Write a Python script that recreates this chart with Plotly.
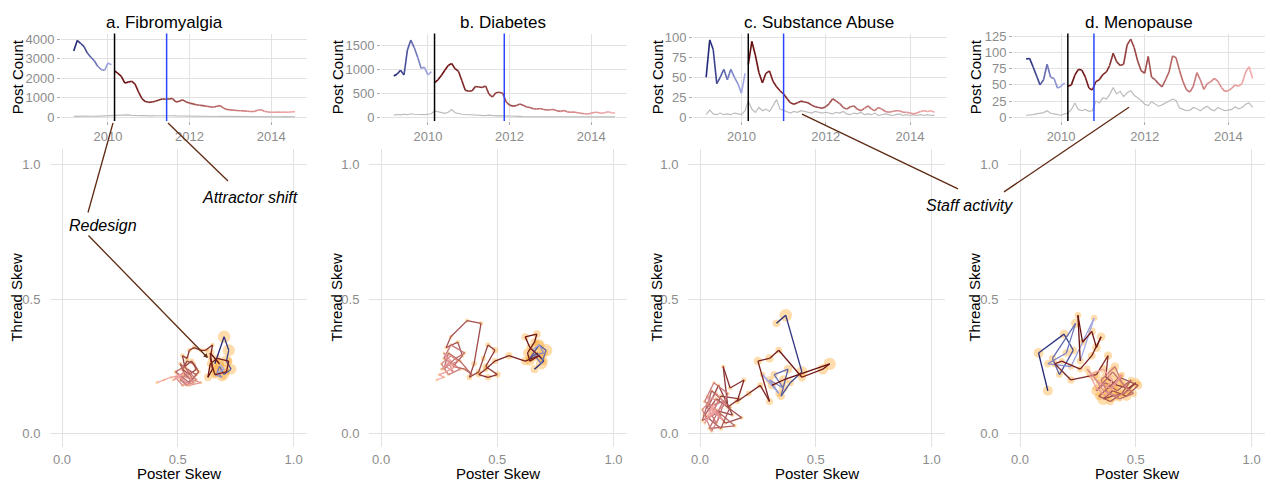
import plotly.graph_objects as go
import pandas as pd

# ---------------- data ----------------
months = pd.date_range("2009-03-01", "2014-08-01", freq="MS")   # 66 monthly samples
redesign_date = "2010-03-01"
shift_dates = ["2011-06-10", "2011-11-15", "2011-01-01", "2010-10-15"]
titles = ["a. Fibromyalgia", "b. Diabetes", "c. Substance Abuse", "d. Menopause"]
year_ticks = ["2010-01-01", "2012-01-01", "2014-01-01"]
year_labels = ["2010", "2012", "2014"]
skew_ticks = [0, 0.5, 1.0]
skew_labels = ["0.0", "0.5", "1.0"]
count_ticks = [[0, 1000, 2000, 3000, 4000], [0, 500, 1000, 1500],
               [0, 25, 50, 75, 100], [0, 25, 50, 75, 100, 125]]

fibro_posts = [3400, 3950, 3800, 3630, 3300, 3080, 2900, 2620, 2450, 2400, 2780, 2700,
               2380, 2250, 2100, 1750, 1800, 1850, 1700, 1300, 950, 800, 760, 780,
               820, 880, 930, 920, 930, 960, 780, 820, 890, 780, 720, 680,
               640, 610, 590, 560, 530, 510, 560, 590, 460, 390, 370, 350,
               340, 330, 320, 300, 290, 285, 350, 380, 300, 260, 250, 250,
               255, 250, 255, 250, 270, 280]
fibro_staff = [40, 50, 45, 55, 50, 45, 60, 50, 55, 60, 70, 65,
               90, 110, 100, 130, 110, 90, 80, 70, 75, 80, 70, 65,
               70, 75, 80, 90, 85, 70, 60, 55, 50, 55, 50, 45,
               40, 45, 40, 35, 40, 35, 30, 35, 30, 30, 25, 30,
               25, 25, 30, 25, 20, 25, 20, 20, 25, 20, 20, 20,
               20, 15, 20, 15, 20, 15]
fibro_poster = [0.66, 0.70, 0.72, 0.71, 0.73, 0.70, 0.68, 0.67, 0.69, 0.66, 0.70, 0.68,
                0.64, 0.65, 0.63, 0.64, 0.67, 0.72, 0.71, 0.66, 0.64, 0.65, 0.62, 0.60,
                0.57, 0.55, 0.54, 0.52, 0.53, 0.56, 0.58, 0.55, 0.52, 0.54, 0.57, 0.59,
                0.56, 0.53, 0.51, 0.54, 0.58, 0.55, 0.52, 0.49, 0.53, 0.56, 0.54, 0.51,
                0.55, 0.58, 0.53, 0.50, 0.54, 0.57, 0.52, 0.49, 0.53, 0.56, 0.60, 0.55,
                0.51, 0.48, 0.52, 0.47, 0.44, 0.41]
fibro_thread = [0.26, 0.36, 0.31, 0.27, 0.24, 0.22, 0.25, 0.23, 0.21, 0.22, 0.24, 0.26,
                0.30, 0.24, 0.21, 0.26, 0.28, 0.27, 0.23, 0.22, 0.28, 0.33, 0.31, 0.31,
                0.32, 0.31, 0.28, 0.29, 0.25, 0.27, 0.24, 0.22, 0.24, 0.27, 0.26, 0.23,
                0.20, 0.22, 0.26, 0.24, 0.22, 0.19, 0.21, 0.23, 0.25, 0.21, 0.18, 0.20,
                0.23, 0.20, 0.19, 0.22, 0.21, 0.19, 0.18, 0.21, 0.23, 0.20, 0.19, 0.18,
                0.21, 0.20, 0.22, 0.21, 0.20, 0.19]

diab_posts = [860, 900, 980, 880, 1400, 1610, 1450, 1250, 1020, 1040, 880, 950,
              720, 780, 870, 980, 1080, 1120, 1010, 960, 760, 560, 540, 550,
              640, 630, 620, 650, 480, 420, 510, 520, 500, 320, 250, 230,
              240, 275, 250, 210, 200, 175, 170, 180, 160, 150, 155, 160,
              130, 120, 140, 110, 100, 105, 90, 80, 70, 65, 80, 100,
              95, 80, 90, 110, 90, 85]
diab_staff = [40, 55, 45, 60, 50, 70, 60, 55, 65, 50, 60, 70,
              130, 110, 90, 80, 100, 160, 90, 70, 60, 55, 50, 45,
              40, 45, 35, 30, 40, 30, 25, 30, 25, 20, 20, 18,
              15, 15, 12, 12, 10, 12, 10, 10, 12, 10, 8, 10,
              8, 10, 8, 8, 10, 8, 8, 6, 8, 6, 6, 8,
              6, 8, 6, 6, 8, 6]
diab_poster = [0.66, 0.70, 0.67, 0.64, 0.68, 0.71, 0.69, 0.66, 0.70, 0.68, 0.65, 0.69,
               0.64, 0.62, 0.67, 0.66, 0.63, 0.64, 0.68, 0.62, 0.55, 0.49, 0.45, 0.42,
               0.46, 0.50, 0.45, 0.49, 0.46, 0.44, 0.42, 0.38, 0.40, 0.43, 0.37, 0.30,
               0.28, 0.33, 0.35, 0.31, 0.36, 0.39, 0.34, 0.29, 0.27, 0.32, 0.36, 0.30,
               0.27, 0.31, 0.34, 0.29, 0.26, 0.30, 0.33, 0.28, 0.31, 0.27, 0.30, 0.26,
               0.29, 0.32, 0.28, 0.25, 0.27, 0.24]
diab_thread = [0.24, 0.27, 0.30, 0.28, 0.33, 0.31, 0.26, 0.29, 0.30, 0.33, 0.31, 0.28,
               0.32, 0.36, 0.37, 0.34, 0.30, 0.27, 0.29, 0.27, 0.29, 0.27, 0.24, 0.22,
               0.21, 0.22, 0.25, 0.31, 0.33, 0.28, 0.23, 0.21, 0.26, 0.41, 0.42, 0.36,
               0.32, 0.34, 0.29, 0.25, 0.24, 0.22, 0.27, 0.30, 0.24, 0.28, 0.30, 0.33,
               0.28, 0.26, 0.24, 0.22, 0.26, 0.29, 0.27, 0.25, 0.23, 0.30, 0.27, 0.24,
               0.26, 0.25, 0.23, 0.22, 0.21, 0.20]

subst_posts = [50, 97, 85, 42, 50, 60, 47, 60, 50, 42, 30, 55,
               66, 95, 78, 56, 43, 55, 58, 45, 38, 33, 29, 23,
               18, 16, 18, 20, 19, 18, 15, 13, 12, 11, 13, 17,
               23, 20, 17, 12, 10, 13, 14, 10, 8, 11, 14, 10,
               8, 12, 10, 7, 6, 7, 8, 8, 6, 6, 5, 4,
               5, 7, 8, 7, 8, 6]
subst_staff = [3, 9, 4, 3, 5, 3, 4, 3, 5, 4, 3, 8,
               20, 10, 6, 12, 8, 10, 7, 14, 22, 10, 8, 6,
               5, 7, 6, 8, 7, 6, 5, 7, 6, 5, 6, 5,
               4, 6, 5, 7, 4, 3, 5, 4, 6, 3, 4, 3,
               5, 2, 3, 4, 3, 2, 3, 4, 2, 3, 2, 3,
               2, 3, 2, 3, 2, 2]
subst_poster = [0.33, 0.37, 0.44, 0.39, 0.35, 0.38, 0.32, 0.36, 0.30, 0.34, 0.27, 0.31,
                0.36, 0.56, 0.53, 0.44, 0.34, 0.30, 0.25, 0.30, 0.26, 0.21, 0.16, 0.19,
                0.13, 0.10, 0.12, 0.17, 0.09, 0.06, 0.14, 0.08, 0.04, 0.11, 0.18, 0.07,
                0.02, 0.09, 0.13, 0.05, 0.01, 0.08, 0.15, 0.04, 0.10, 0.03, 0.07, 0.12,
                0.06, 0.02, 0.09, 0.05, 0.01, 0.07, 0.11, 0.04, 0.08, 0.03, 0.06, 0.10,
                0.05, 0.02, 0.07, 0.04, 0.06, 0.03]
subst_thread = [0.41, 0.44, 0.23, 0.19, 0.14, 0.24, 0.22, 0.17, 0.20, 0.15, 0.22, 0.18,
                0.20, 0.26, 0.24, 0.21, 0.31, 0.28, 0.27, 0.12, 0.18, 0.15, 0.12, 0.20,
                0.17, 0.25, 0.10, 0.13, 0.14, 0.09, 0.07, 0.18, 0.11, 0.04, 0.06, 0.13,
                0.07, 0.02, 0.10, 0.16, 0.05, 0.08, 0.03, 0.02, 0.12, 0.10, 0.04, 0.15,
                0.19, 0.12, 0.07, 0.01, 0.09, 0.15, 0.11, 0.06, 0.12, 0.14, 0.08, 0.05,
                0.10, 0.04, 0.09, 0.07, 0.11, 0.06]

meno_posts = [90, 91, 78, 64, 50, 58, 82, 62, 60, 45, 48, 53,
              48, 50, 65, 74, 73, 62, 45, 42, 55, 58, 66, 70,
              80, 99, 86, 80, 82, 112, 121, 108, 87, 72, 68, 94,
              62, 58, 52, 47, 58, 70, 95, 92, 72, 55, 42, 39,
              48, 69, 58, 43, 52, 55, 60, 56, 46, 40, 41, 45,
              50, 48, 52, 70, 78, 60]
meno_staff = [3, 3, 4, 5, 6, 7, 10, 6, 5, 4, 3, 5,
              6, 12, 22, 12, 10, 12, 9, 10, 25, 22, 30, 28,
              35, 46, 36, 40, 32, 38, 41, 34, 30, 26, 20, 18,
              24, 20, 17, 19, 22, 25, 28, 26, 14, 12, 10, 11,
              15, 13, 10, 14, 17, 12, 10, 15, 12, 10, 11, 12,
              16, 13, 15, 20, 22, 15]
meno_poster = [0.12, 0.08, 0.19, 0.23, 0.17, 0.14, 0.24, 0.20, 0.12, 0.22, 0.32, 0.26,
               0.25, 0.27, 0.31, 0.33, 0.35, 0.31, 0.26, 0.18, 0.15, 0.22, 0.33, 0.38,
               0.37, 0.42, 0.47, 0.50, 0.45, 0.40, 0.36, 0.40, 0.46, 0.51, 0.43, 0.38,
               0.34, 0.39, 0.44, 0.48, 0.42, 0.37, 0.33, 0.40, 0.45, 0.49, 0.43, 0.38,
               0.35, 0.41, 0.44, 0.47, 0.42, 0.36, 0.32, 0.29, 0.34, 0.39, 0.44, 0.41,
               0.37, 0.33, 0.30, 0.36, 0.40, 0.38]
meno_thread = [0.16, 0.30, 0.37, 0.31, 0.22, 0.28, 0.41, 0.30, 0.26, 0.25, 0.43, 0.27,
               0.44, 0.34, 0.38, 0.32, 0.36, 0.29, 0.24, 0.27, 0.26, 0.20, 0.22, 0.29,
               0.21, 0.18, 0.17, 0.19, 0.15, 0.14, 0.13, 0.16, 0.14, 0.18, 0.21, 0.17,
               0.14, 0.12, 0.15, 0.20, 0.16, 0.19, 0.16, 0.23, 0.18, 0.15, 0.13, 0.15,
               0.20, 0.25, 0.19, 0.16, 0.14, 0.16, 0.21, 0.24, 0.19, 0.17, 0.22, 0.18,
               0.14, 0.17, 0.22, 0.24, 0.20, 0.18]

all_posts = [fibro_posts, diab_posts, subst_posts, meno_posts]
all_staff = [fibro_staff, diab_staff, subst_staff, meno_staff]
all_poster = [fibro_poster, diab_poster, subst_poster, meno_poster]
all_thread = [fibro_thread, diab_thread, subst_thread, meno_thread]

# ---------------- styling / layout helpers ----------------
W, H = 1268, 485
FONT = "Liberation Sans, Arial, Helvetica, sans-serif"
GRID = "#e2e2e2"
TICKC = "#8c8c8c"
BROWN = "#5e2a12"
PRE0, PRE1 = (28, 34, 112), (170, 176, 236)
POST0, POST1 = (102, 12, 12), (246, 170, 170)

def lerp(c0, c1, f):
    return "rgb(%d,%d,%d)" % tuple(round(a + (b - a) * f) for a, b in zip(c0, c1))

def px(v):
    return v / W

def py(v):
    return 1 - v / H

pre_len = int((months < pd.Timestamp(redesign_date)).sum())
n = len(months)

def seg_color(i):
    # colour of segment i -> i+1
    if i + 1 < pre_len:
        return lerp(PRE0, PRE1, (i + 0.5) / (pre_len - 1))
    f = max(0.0, (i + 0.5 - pre_len)) / (n - 1 - pre_len)
    return lerp(POST0, POST1, min(f, 1.0))

top_dom_x = [(61, 307), (381, 627), (693, 947), (1013, 1265)]
bot_dom_x = [(50, 307), (369, 627), (688, 945), (1008, 1265)]
top_dom_y = (30, 119)
bot_dom_y = (147, 450)
count_ranges = [(-203, 4304), (-82, 1747), (-5, 105), (-6, 129.6)]
title_x = [164, 503, 819, 1139]
ytitle_x = [17, 337, 657, 975]

fig = go.Figure()
layout = dict(
    width=W, height=H, margin=dict(l=0, r=0, t=0, b=0),
    paper_bgcolor="white", plot_bgcolor="white", showlegend=False,
    font=dict(family=FONT, color="black"),
    shapes=[], annotations=[],
)

for p in range(4):
    ti = p + 1
    bi = p + 5
    xt = "x" if ti == 1 else f"x{ti}"
    yt = "y" if ti == 1 else f"y{ti}"
    xb, yb = f"x{bi}", f"y{bi}"
    posts, staff = all_posts[p], all_staff[p]
    sx, sy = all_poster[p], all_thread[p]

    # --- top: post counts over time ---
    fig.add_trace(go.Scatter(x=months, y=staff, mode="lines",
                             line=dict(color="#bcbcbc", width=1.2),
                             xaxis=xt, yaxis=yt, hoverinfo="skip"))
    for i in range(n - 1):
        if i == pre_len - 1:
            continue
        fig.add_trace(go.Scatter(x=months[i:i + 2], y=posts[i:i + 2], mode="lines",
                                 line=dict(color=seg_color(i), width=1.6),
                                 xaxis=xt, yaxis=yt, hoverinfo="skip"))

    # --- bottom: skew trajectory ---
    mx = max(posts)
    fig.add_trace(go.Scatter(x=sx, y=sy, mode="markers",
                             marker=dict(size=[2.5 + 10 * c / mx for c in posts],
                                         color="rgba(253,172,55,0.6)", line=dict(width=0)),
                             xaxis=xb, yaxis=yb, hoverinfo="skip"))
    for i in range(n - 1):
        fig.add_trace(go.Scatter(x=sx[i:i + 2], y=sy[i:i + 2], mode="lines",
                                 line=dict(color=seg_color(i), width=1.3),
                                 xaxis=xb, yaxis=yb, hoverinfo="skip"))

    xkey_t = "xaxis" if ti == 1 else f"xaxis{ti}"
    ykey_t = "yaxis" if ti == 1 else f"yaxis{ti}"
    layout[xkey_t] = dict(
        domain=[px(top_dom_x[p][0]), px(top_dom_x[p][1])], anchor=yt, type="date",
        range=["2008-11-07", "2014-11-17"], tickvals=year_ticks, ticktext=year_labels,
        showgrid=True, gridcolor=GRID, gridwidth=1, zeroline=False, showline=False,
        ticks="outside", ticklen=3, tickcolor="#aaaaaa",
        tickfont=dict(size=13, color=TICKC, family=FONT))
    layout[ykey_t] = dict(
        domain=[py(top_dom_y[1]), py(top_dom_y[0])], anchor=xt,
        range=list(count_ranges[p]), tickvals=count_ticks[p],
        showgrid=True, gridcolor=GRID, gridwidth=1, zeroline=False, showline=False,
        ticks="outside", ticklen=3, tickcolor="#aaaaaa",
        tickfont=dict(size=13, color=TICKC, family=FONT))
    layout[f"xaxis{bi}"] = dict(
        domain=[px(bot_dom_x[p][0]), px(bot_dom_x[p][1])], anchor=yb,
        range=[-0.052, 1.058], tickvals=skew_ticks, ticktext=skew_labels,
        showgrid=True, gridcolor=GRID, gridwidth=1, zeroline=False, showline=False,
        ticks="outside", ticklen=1, tickcolor="rgba(0,0,0,0)",
        tickfont=dict(size=13, color=TICKC, family=FONT))
    layout[f"yaxis{bi}"] = dict(
        domain=[py(bot_dom_y[1]), py(bot_dom_y[0])], anchor=xb,
        range=[-0.047, 1.058], tickvals=skew_ticks, ticktext=skew_labels,
        showgrid=True, gridcolor=GRID, gridwidth=1, zeroline=False, showline=False,
        ticks="outside", ticklen=6, tickcolor="rgba(0,0,0,0)",
        tickfont=dict(size=13, color=TICKC, family=FONT))

    # event lines
    ydom = "y domain" if ti == 1 else f"y{ti} domain"
    layout["shapes"].append(dict(type="line", xref=xt, yref=ydom, x0=redesign_date, x1=redesign_date,
                                 y0=0, y1=1, line=dict(color="black", width=1.5)))
    layout["shapes"].append(dict(type="line", xref=xt, yref=ydom, x0=shift_dates[p], x1=shift_dates[p],
                                 y0=0, y1=1, line=dict(color="#2a45ff", width=1.5)))

    # titles
    layout["annotations"].append(dict(text=titles[p], x=px(title_x[p]), y=py(19), xref="paper", yref="paper",
                                      showarrow=False, xanchor="center", yanchor="middle",
                                      font=dict(size=17, color="black", family=FONT)))
    layout["annotations"].append(dict(text="Post Count", x=px(ytitle_x[p]), y=py(74.5), xref="paper",
                                      yref="paper", showarrow=False, textangle=-90, xanchor="center",
                                      yanchor="middle", font=dict(size=15, color="black", family=FONT)))
    layout["annotations"].append(dict(text="Thread Skew", x=px(ytitle_x[p]), y=py(298.5), xref="paper",
                                      yref="paper", showarrow=False, textangle=-90, xanchor="center",
                                      yanchor="middle", font=dict(size=15, color="black", family=FONT)))
    layout["annotations"].append(dict(text="Poster Skew", x=px((bot_dom_x[p][0] + bot_dom_x[p][1]) / 2),
                                      y=py(477.5), xref="paper", yref="paper", showarrow=False,
                                      xanchor="center", yanchor="middle",
                                      font=dict(size=15, color="black", family=FONT)))

# callout texts
for txt, cx, cy in [("Redesign", 102.5, 225), ("Attractor shift", 249.5, 197), ("Staff activity", 969, 205)]:
    layout["annotations"].append(dict(text="<i>%s</i>" % txt, x=px(cx), y=py(cy), xref="paper", yref="paper",
                                      showarrow=False, xanchor="center", yanchor="middle",
                                      font=dict(size=16, color="black", family=FONT)))

# callout connectors
for (x0, y0, x1, y1) in [(88, 212, 113, 121), (228, 180, 168, 121),
                         (958, 188, 802, 112), (1004, 191, 1129, 105)]:
    layout["shapes"].append(dict(type="line", xref="paper", yref="paper",
                                 x0=px(x0), y0=py(y0), x1=px(x1), y1=py(y1),
                                 line=dict(color=BROWN, width=1.3)))
layout["annotations"].append(dict(text="", x=px(208), y=py(360), xref="paper", yref="paper",
                                  showarrow=True, ax=87 - 208, ay=236 - 360, arrowhead=2,
                                  arrowsize=0.7, arrowwidth=1.3, arrowcolor=BROWN, standoff=0))

fig.update_layout(**layout)
fig.write_html("out.html", config={"displayModeBar": False, "staticPlot": True},
               post_script="document.body.style.margin='0';document.body.style.padding='0';"
                           "document.body.style.overflow='hidden';")
